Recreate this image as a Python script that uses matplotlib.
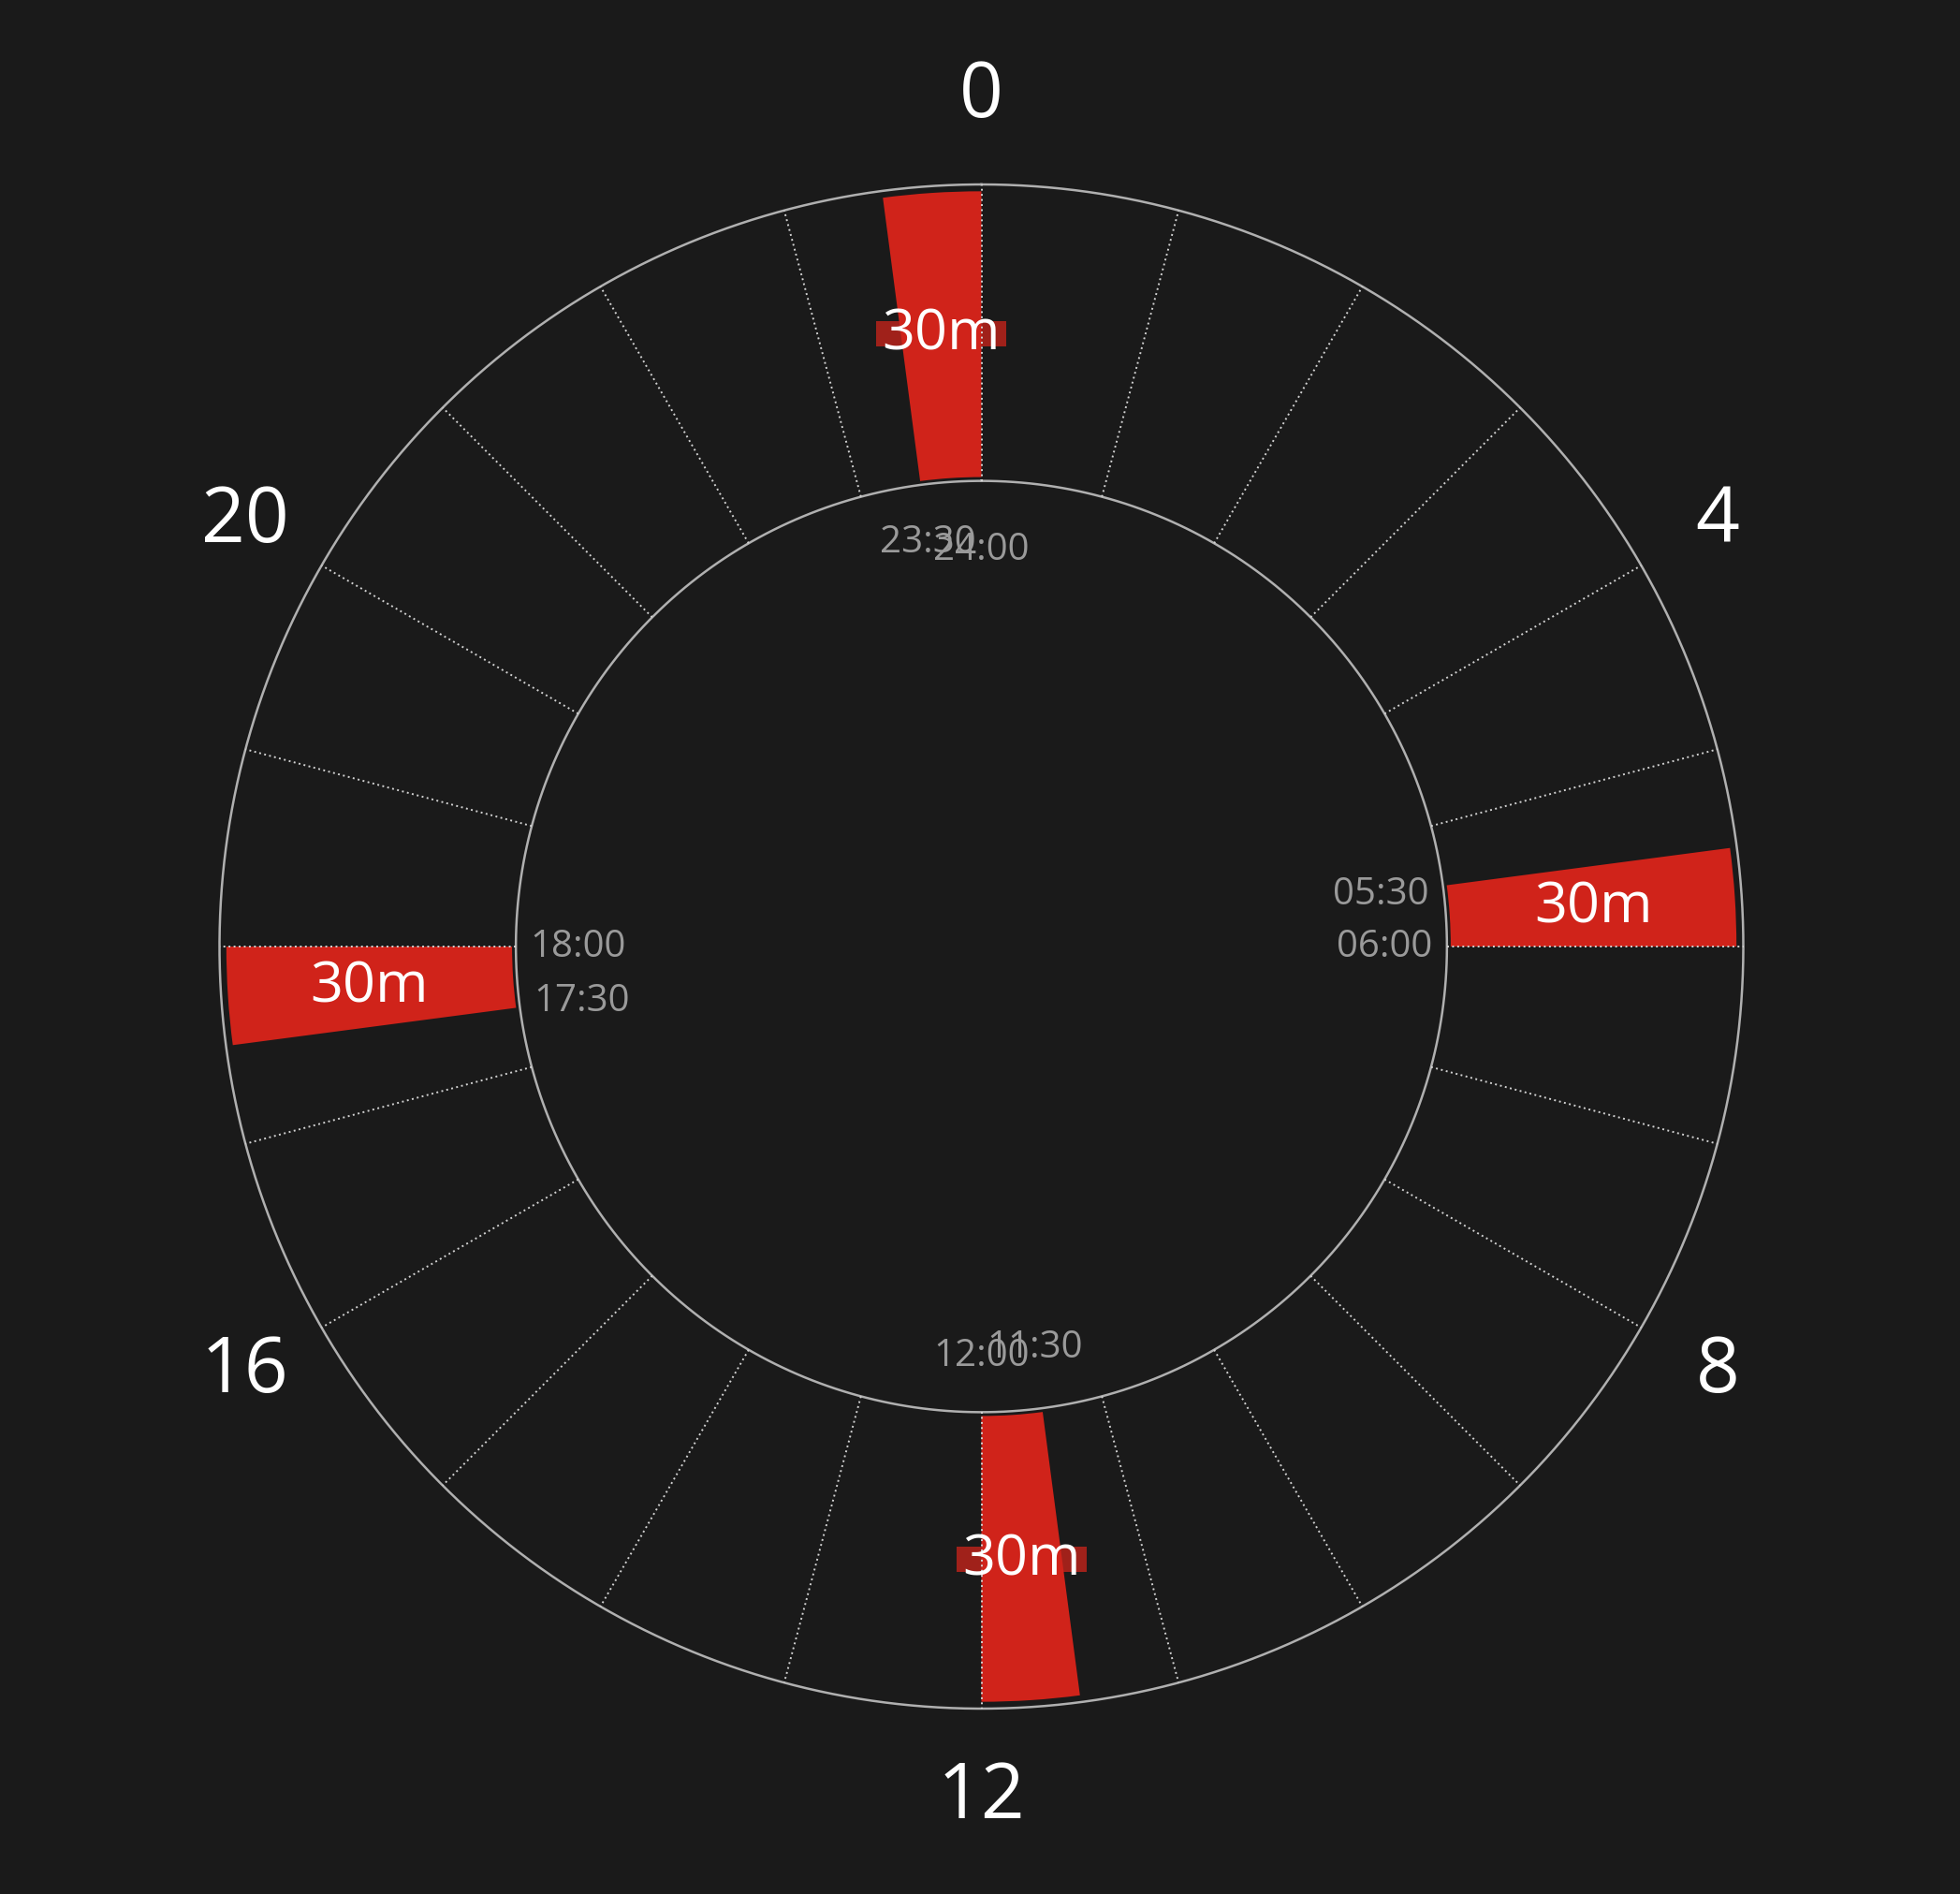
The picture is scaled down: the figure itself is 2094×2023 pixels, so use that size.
import matplotlib
matplotlib.use("Agg")
import numpy as np
import matplotlib.pyplot as plt
from matplotlib.offsetbox import AnnotationBbox, DrawingArea
from matplotlib.patches import Rectangle

plt.rcParams['font.family'] = ['Open Sans', 'DejaVu Sans']

# data
starts = ["23:30", "05:30", "11:30", "17:30"]
ends = ["24:00", "06:00", "12:00", "18:00"]
durations = [30, 30, 30, 30]
labels = ["30m", "30m", "30m", "30m"]
hour_labels = [0, 4, 8, 12, 16, 20]

bg = "#1a1a1a"
red = "#d0231a"
dark_red = "#a0211a"

# small pixel nudges so the time labels sit like the original
nudge = {"24:00": -12, "05:30": -7, "17:30": 5, "11:30": 5}

def to_hours(s):
    h, m = s.split(":")
    return int(h) + int(m) / 60.0

def to_theta(h):
    return h / 24.0 * 2 * np.pi

r_in = 0.611
r_out = 1.0

fig = plt.figure(figsize=(20.94, 20.24), dpi=100, facecolor=bg)
ax = fig.add_axes([48.5 / 2094, 12 / 2024, 2000 / 2094, 2000 / 2024], projection="polar")
ax.set_facecolor(bg)
ax.set_theta_zero_location("N")
ax.set_theta_direction(-1)
ax.set_ylim(0, 1000 / 814)
ax.set_axis_off()

# rings
t = np.linspace(0, 2 * np.pi, 720)
ax.plot(t, np.full_like(t, r_out), color="#b0b0b0", lw=1.8, zorder=3)
ax.plot(t, np.full_like(t, r_in), color="#b0b0b0", lw=1.8, zorder=3)

# hour spokes
for h in range(24):
    th = to_theta(h)
    ax.plot([th, th], [r_in, r_out], color="#d2d2d2", lw=1.4,
            linestyle=(0, (1, 1.8)), zorder=3)

# sessions
for s, e, d, lab in zip(starts, ends, durations, labels):
    h0 = to_hours(s)
    h1 = to_hours(e)
    th0 = to_theta(h0)
    w = to_theta(d / 60.0)
    ax.bar(th0, 0.991 - 0.616, width=w, bottom=0.616, align="edge",
           color=red, edgecolor="none", zorder=2)
    thm = th0 + w / 2
    rm = (r_in + r_out) / 2
    da = DrawingArea(100, 19.5, 0, 0)
    da.add_artist(Rectangle((0, 0), 100, 19.5, facecolor=dark_red, edgecolor="none"))
    ab = AnnotationBbox(da, (thm, rm), xycoords="data", frameon=False,
                        box_alignment=(0.5, 0.5), pad=0, zorder=1)
    ax.add_artist(ab)
    ax.text(thm, rm, lab, color="white", fontsize=44, ha="center",
            va="center", zorder=5)

    # start / end time labels
    for hh, txt in ((h0, s), (h1, e)):
        th = to_theta(hh)
        sx = np.sin(th)
        sy = np.cos(th)
        if abs(sx) > abs(sy):
            ha = "right" if sx > 0 else "left"
            rr = 0.592
        else:
            ha = "center"
            rr = 0.536
        ax.annotate(txt, xy=(th, rr), xytext=(0, nudge.get(txt, 0)),
                    textcoords="offset pixels", color="#9a9a9a", fontsize=29,
                    ha=ha, va="center", zorder=5)

# hour labels
for h in hour_labels:
    ax.text(to_theta(h), 1.116, str(h), color="white", fontsize=59,
            ha="center", va="center")

fig.savefig("out.png", dpi=100, facecolor=bg)
